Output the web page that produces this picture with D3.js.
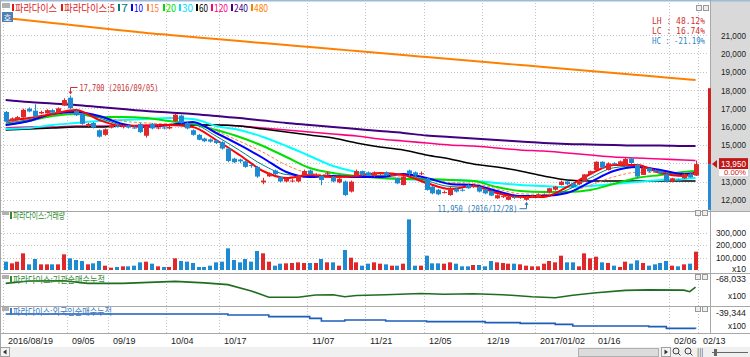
<!DOCTYPE html>
<html><head><meta charset="utf-8">
<script src="https://cdn.jsdelivr.net/npm/d3@7"></script>
<style>
body{margin:0;background:#fff;overflow:hidden}
svg{display:block}
text{font-family:"Noto Sans CJK KR","Noto Sans",sans-serif}
.mono{font-family:"DejaVu Sans Mono","Liberation Mono",monospace}
.num{font-family:"Liberation Sans",Arial,sans-serif}
</style></head><body>
<svg id="c" width="750" height="357"></svg>
<script>
// ---------- DATA ----------
const dateLabels = ["2016/08/19","09/05","09/19","10/04","10/17","11/07","11/21","12/05","12/19","2017/01/02","01/16","02/06","02/13"];
const dateLabelIdx = [0,11,18,28,37,52,62,72,82,91,101,114,119];

const open = [16800,16300,16380,16500,16980,16870,16720,16720,16900,16740,17150,17580,16850,16700,16050,16200,15800,15550,15950,16050,
15980,16050,15950,16150,15500,16150,15900,15950,15900,16300,16600,16200,15800,15550,15350,15300,15250,15150,14800,14250,
14200,14100,13900,13800,12950,13280,13600,13250,13000,13050,13000,13320,13600,13350,13300,13400,13250,12950,13000,12450,
13320,13570,13500,13300,13400,13500,13350,13170,12810,13600,13500,13400,13170,12720,12550,12400,12260,12600,12550,12800,
12700,12700,12580,12480,12080,12150,12000,12150,12100,12000,12150,12150,12280,12410,12550,12810,13000,12900,12850,13030,
13400,13630,14080,13630,14000,13900,13860,14250,13900,13360,13720,13600,13550,13390,13000,13100,13170,13400,13320];
const close = [16270,16450,16520,16920,16830,16550,16800,16900,16760,17000,17450,17000,16620,16150,16150,15950,15450,15850,16050,15980,
16050,15950,15920,15700,16000,15900,15950,15900,15980,16650,16200,15900,15550,15280,15200,15180,15100,14800,14120,14050,
14100,13800,13850,13270,13050,13450,13400,13000,13150,13050,13320,13570,13380,13350,13080,13450,13000,13150,12260,12990,
13570,13350,13330,13500,13450,13330,13350,12900,13270,13420,13330,13450,12540,12350,12300,12420,12660,12450,12500,12630,
12750,12450,12350,12230,12250,12200,12170,12120,12180,12170,12230,12300,12300,12630,12720,12990,12850,12700,12990,13390,
13570,14080,13760,13990,13950,14100,14230,14010,13270,13760,13550,13550,13450,12990,13170,13050,13400,13220,13950];
const high = [16850,16500,16580,16980,17050,17220,16870,16950,16950,17050,17550,17700,16900,16750,16200,16250,15850,15900,16100,16150,
16100,16100,16050,16200,16050,16200,16050,16000,16050,16700,16650,16250,15850,15600,15400,15350,15300,15200,14850,14300,
14250,14150,13950,13850,13200,13500,13650,13300,13200,13150,13350,13650,13650,13450,13350,13550,13300,13200,13050,13050,
13650,13600,13550,13550,13500,13550,13400,13200,13300,13650,13550,13550,13200,12750,12600,12500,12700,12650,12650,12850,
12850,12750,12600,12500,12300,12250,12200,12200,12200,12200,12250,12350,12350,12650,12750,13050,13050,12950,13000,13400,
13600,14100,14100,14050,14050,14150,14280,14300,13950,13800,13750,13650,13600,13400,13200,13150,13450,13450,14150];
const low = [16200,16250,16330,16480,16780,16500,16680,16700,16700,16720,17120,16950,16580,16100,15980,15900,15400,15500,15900,15950,
15900,15900,15880,15650,15400,15850,15850,15850,15850,16250,16150,15850,15500,15250,15150,15120,15050,14750,14050,14000,
14000,13750,13750,13200,12850,13250,13350,12950,12950,12950,12950,13300,13350,13300,12800,13350,12950,12900,12200,12400,
13300,13300,13300,13250,13350,13300,13300,12850,12780,13280,13300,13350,12500,12300,12250,12350,12220,12400,12450,12600,
12650,12400,12300,12200,12050,12100,11980,12050,12050,11950,12100,12100,12250,12350,12500,12780,12800,12650,12800,13000,
13380,13600,13700,13600,13900,13850,13850,13950,13200,13350,13500,13500,13400,12950,12950,13000,13150,13200,13300];
const volume = [66700,53300,66700,133300,45300,88000,45300,45300,45300,45300,125300,93300,80000,72000,45300,53300,72000,34700,18700,24000,
29300,29300,34700,61300,66700,50700,29300,24000,24000,93300,72000,66700,56000,24000,24000,34700,61300,66700,173300,80000,
61300,88000,66700,152000,133300,66700,34700,50700,53300,56000,61300,56000,56000,56000,88000,61300,61300,34700,160000,98700,
61300,34700,50700,61300,50700,45300,34700,34700,50700,405000,34700,34700,114700,53300,53300,50700,61300,50700,29300,29300,
40000,40000,29300,72000,61300,56000,50700,50700,45300,34700,29300,29300,50700,72000,61300,114700,61300,61300,29300,133300,
93300,106700,61300,56000,34700,24000,66700,50700,77300,56000,34700,45300,56000,72000,34700,29300,45300,50700,146700];

const maIdx = [0,4,8,12,16,20,24,28,32,36,40,44,48,52,56,60,64,68,72,76,80,84,88,92,96,100,104,108,112,116,118];
const ma5  = [16306,16470,16689,16907,16361,16033,16033,16088,15978,15268,14448,13574,13192,13356,13246,13301,13465,13356,12918,12591,12755,12372,12154,12154,12700,13410,13902,13902,13465,13301,13465];
const ma7  = [16200,16380,16700,16850,16480,16080,16000,16090,16100,15480,14700,13900,13380,13300,13280,13270,13330,13380,13050,12730,12780,12420,12180,12180,12530,13200,13750,13850,13550,13350,13450];
const ma10 = [16088,16306,16689,16798,16579,16142,15978,16088,16252,15650,14995,14284,13520,13246,13301,13246,13246,13410,13192,12864,12809,12481,12208,12208,12372,12973,13574,13793,13629,13410,13465];
const ma15 = [16150,16300,16640,16750,16560,16300,16200,16150,16200,15750,15200,14600,13900,13450,13350,13270,13220,13250,13150,12950,12900,12600,12330,12300,12400,12800,13250,13500,13500,13450,13500];
const ma20 = [16088,16306,16579,16689,16525,16525,16470,16306,16142,15814,15432,14940,14339,13738,13465,13301,13192,13137,13137,13082,13028,12700,12481,12427,12427,12536,12864,13192,13356,13520,13574];
const ma30 = [15869,15923,16088,16197,16306,16361,16415,16470,16415,16033,15814,15432,14940,14394,13847,13520,13246,13137,13082,13082,13028,12918,12809,12754,12700,12754,12864,12973,13082,13137,13192];
const ma60 = [15814,15869,15923,15978,15978,16033,16033,16088,16088,16088,16033,15869,15705,15541,15377,15104,14885,14722,14448,14230,13957,13793,13574,13301,13082,13028,13028,13028,13028,13028,13028];
const ma120 = [15923,15978,15978,16033,16033,16033,16088,16088,16088,16088,16033,15923,15814,15705,15596,15487,15323,15213,15104,14995,14940,14831,14722,14667,14558,14448,14339,14284,14230,14175,14150];
const ma240 = [17454,17344,17262,17180,17071,16962,16852,16771,16689,16579,16470,16334,16197,16088,15978,15869,15760,15650,15514,15432,15350,15268,15186,15104,15049,15022,14995,14967,14967,14940,14940];
const ma480 = [21934,21797,21661,21524,21388,21251,21114,21005,20896,20787,20677,20568,20459,20350,20240,20131,20022,19912,19803,19694,19585,19475,19366,19257,19147,19038,18929,18820,18710,18601,18546];

const instIdx = [0,4,10,14,20,29,34,38,42,45,50,53,56,58,60,65,71,75,80,85,90,94,97,101,106,110,116,117,118];
const inst = [-74033,-71333,-71033,-74033,-74033,-71633,-73433,-75533,-83033,-90533,-90533,-87833,-87533,-89933,-88433,-87533,-86033,-86933,-86333,-87533,-89933,-91133,-88133,-85133,-82433,-81833,-82133,-83933,-78533];
const forIdx = [0,27,38,45,52,54,58,65,72,82,88,94,97,102,110,113,118];
const foreign = [-38444,-38444,-39344,-40844,-42344,-44744,-43844,-44744,-45344,-46244,-46844,-47744,-49244,-49244,-49844,-51344,-51644];

const priceTicks = [12000,13000,14000,15000,16000,17000,18000,19000,20000,21000];
const volTicks = [100000,200000,300000];
const maNames = ["5","7","10","15","20","30","60","120","240","480"];
const maColors = ["#ff0000","#008080","#0000ff","#ff8040","#00e000","#00ffff","#000000","#ff0080","#400080","#ff8000"];
const maWidths = [2,1,2,1,2,2,1.6,1.6,2,2];
const lastPrice = 13950;
const rangeBar = [18100, 11450];
const hiPt = {i:11, v:17700, label:"17,700 (2016/09/05)"};
const loPt = {i:89, v:11950, label:"11,950 (2016/12/28)"};
const statLabels = ["LH :  48.12%","LC :  16.74%","HC : -21.19%"];

// ---------- LAYOUT ----------
const svg = d3.select("#c");
const UP="#e0282a", DN="#1c8bd2";
const plotR = 708, axisL = 711;
const x = d3.scaleLinear().domain([0,119]).range([5.7,701.4]);
const y = d3.scaleLinear().domain([12000,21000]).range([199.8,35.1]);
const yv = d3.scaleLinear().domain([0,300000]).range([270,232.5]);
const yi = d3.scaleLinear().domain([-68033,-95033]).range([278.3,301]);
const yf = d3.scaleLinear().domain([-39344,-66344]).range([315,345]);
const panels = [[2,211],[212,273],[274,306],[307,333]];
const num = d3.format(",");
function narrow(sel, w){ return sel.attr("textLength",w).attr("lengthAdjust","spacingAndGlyphs"); }

svg.append("rect").attr("width",750).attr("height",357).attr("fill","#fff");
svg.append("rect").attr("x",axisL).attr("y",0).attr("width",750-axisL).attr("height",211).attr("fill","#d9d9d9");
svg.append("rect").attr("x",0).attr("y",0).attr("width",750).attr("height",1.5).attr("fill","#9dbbd8");

panels.forEach(p=>{
  svg.append("line").attr("x1",0).attr("x2",750).attr("y1",p[1]+0.5).attr("y2",p[1]+0.5).attr("stroke","#a8a8a8");
});
svg.append("line").attr("x1",axisL-0.5).attr("x2",axisL-0.5).attr("y1",0).attr("y2",333).attr("stroke","#a8a8a8");
svg.append("line").attr("x1",0.5).attr("x2",0.5).attr("y1",0).attr("y2",347).attr("stroke","#a8a8a8");

const grid = svg.append("g").attr("stroke","#c4c4c4").attr("stroke-dasharray","1,2");
dateLabelIdx.forEach(i=>{
  panels.forEach(p=>{
    grid.append("line").attr("x1",Math.round(x(i))-2.5).attr("x2",Math.round(x(i))-2.5).attr("y1",p[0]+1).attr("y2",p[1]);
  });
});
priceTicks.forEach(t=>{
  grid.append("line").attr("x1",1).attr("x2",plotR).attr("y1",Math.round(y(t))+0.5).attr("y2",Math.round(y(t))+0.5);
});
volTicks.forEach(t=>{
  grid.append("line").attr("x1",1).attr("x2",plotR).attr("y1",Math.round(yv(t))+0.5).attr("y2",Math.round(yv(t))+0.5);
});

// ---------- MAIN PANEL ----------
svg.append("defs").append("clipPath").attr("id","mc").append("rect").attr("x",1).attr("y",2).attr("width",plotR-1).attr("height",209);
const main = svg.append("g").attr("clip-path","url(#mc)");
const maArrs = [ma5,ma7,ma10,ma15,ma20,ma30,ma60,ma120,ma240,ma480];
[9,8,7,6,5,4,3,1,2,0].forEach(k=>{
  const pts = maIdx.map((i,j)=>[i,maArrs[k][j]]);
  main.append("path").datum(pts)
    .attr("d",d3.line().x(d=>x(d[0])).y(d=>y(d[1])).curve(d3.curveMonotoneX))
    .attr("fill","none").attr("stroke",maColors[k]).attr("stroke-width",maWidths[k])
    .attr("stroke-dasharray",k===3?"3,2":null);
});

const cg = main.append("g");
open.forEach((o,i)=>{
  const c = close[i], col = c>=o?UP:DN;
  const cx = Math.round(x(i))+0.5;
  cg.append("line").attr("x1",cx).attr("x2",cx).attr("y1",y(high[i])).attr("y2",y(low[i])).attr("stroke",col);
  const t = y(Math.max(o,c)), b = y(Math.min(o,c));
  cg.append("rect").attr("x",cx-2.5).attr("y",t).attr("width",5).attr("height",Math.max(1,b-t)).attr("fill",col);
});

{
  const hx = Math.round(x(hiPt.i))+0.5, hy = y(hiPt.v);
  svg.append("path").attr("d",`M${hx},${hy-2}V${hy-8}H${hx+7}`).attr("fill","none").attr("stroke","#c83232");
  svg.append("path").attr("d",`M${hx-2},${hy-4}L${hx},${hy-1}L${hx+2},${hy-4}Z`).attr("fill","#c83232");
  narrow(svg.append("text").attr("x",hx+9).attr("y",hy-4.5).attr("font-size",9.5).attr("fill","#c83232").attr("class","mono").text(hiPt.label),79);
  const lx = Math.round(x(loPt.i))+0.5, ly = y(loPt.v);
  svg.append("path").attr("d",`M${lx},${ly+2}V${ly+8}H${lx-7}`).attr("fill","none").attr("stroke","#2a7ab8");
  svg.append("path").attr("d",`M${lx-2},${ly+4}L${lx},${ly+1}L${lx+2},${ly+4}Z`).attr("fill","#2a7ab8");
  narrow(svg.append("text").attr("x",lx-89).attr("y",ly+11.5).attr("font-size",9.5).attr("fill","#2a7ab8").attr("class","mono").text(loPt.label),80);
}

statLabels.forEach((s,j)=>{
  narrow(svg.append("text").attr("x",652).attr("y",24+j*10).attr("font-size",9)
   .attr("class","mono").attr("fill",j<2?"#d03030":"#2a88c8").text(s),53);
});

priceTicks.forEach(t=>{
  if (t===14000) return;
  narrow(svg.append("text").attr("class","num").attr("x",721).attr("y",y(t)+3.5).attr("font-size",9).attr("fill","#222").text(num(t)),25);
});
svg.append("rect").attr("x",708).attr("y",y(rangeBar[0])).attr("width",3).attr("height",y(lastPrice)-y(rangeBar[0])).attr("fill","#d02020");
svg.append("rect").attr("x",708).attr("y",y(lastPrice)).attr("width",3).attr("height",y(rangeBar[1])-y(lastPrice)).attr("fill","#2a8ad0");
svg.append("path").attr("d",`M${712},${y(lastPrice)}L${717},${y(lastPrice)-4}V${y(lastPrice)+4}Z`).attr("fill","#c01818");
svg.append("rect").attr("x",719).attr("y",y(lastPrice)-6).attr("width",29).attr("height",11).attr("fill","#c01818");
narrow(svg.append("text").attr("class","num").attr("x",721).attr("y",y(lastPrice)+3).attr("font-size",9).attr("fill","#fff").text(num(lastPrice)),25);
svg.append("rect").attr("x",719).attr("y",y(lastPrice)+5).attr("width",29).attr("height",7).attr("fill","#fff");
narrow(svg.append("text").attr("class","num").attr("x",724).attr("y",y(lastPrice)+10.8).attr("font-size",7.5).attr("fill","#d02020").text("0.00%"),22);

const lg = svg.append("g");
lg.append("rect").attr("x",2).attr("y",3).attr("width",8).attr("height",5).attr("fill","#b0b0b0");
const legItems = [["파라다이스","#e01818",15,42],["파라다이스:5","#e01818",64,51]].concat(
  maNames.slice(1).map((n,k)=>[n,maColors[k+1]==="#00ffff"?"#00e0ff":maColors[k+1],[121,134,150,166,182,199,214,234,254][k],[7,9,9,10,11,9,14,14,14][k]]));
legItems.forEach(([t,c,lx,w])=>{
  lg.append("rect").attr("x",lx-3).attr("y",4).attr("width",2).attr("height",7).attr("fill",c);
  narrow(lg.append("text").attr("x",lx).attr("y",11.5).attr("font-size",10).attr("fill",c).text(t),w);
});
svg.append("rect").attr("x",2).attr("y",12).attr("width",11).attr("height",10).attr("fill","#4f7fb5");
svg.append("text").attr("x",7.5).attr("y",20.5).attr("text-anchor","middle").attr("font-size",8.5).attr("fill","#fff").text("호");
[[696,5],[703,5]].forEach(([bx,by])=>svg.append("rect").attr("x",bx+0.5).attr("y",by+0.5).attr("width",5).attr("height",5).attr("fill","#eee").attr("stroke","#999"));

// ---------- VOLUME ----------
const vg = svg.append("g");
volume.forEach((v,i)=>{
  const cx = Math.round(x(i));
  vg.append("rect").attr("x",cx-2).attr("y",yv(v)).attr("width",4).attr("height",yv(0)-yv(v)).attr("fill",close[i]>=open[i]?UP:DN);
});
volTicks.forEach(t=>{
  narrow(svg.append("text").attr("class","num").attr("x",716).attr("y",yv(t)+3).attr("font-size",8.5).attr("fill","#222").text(num(t)),30);
});
narrow(svg.append("text").attr("class","num").attr("x",732).attr("y",yv(0)+2).attr("font-size",8.5).attr("fill","#222").text("x10"),14);

// ---------- INSTITUTION / FOREIGN ----------
svg.append("path").datum(instIdx.map((i,j)=>[i,inst[j]]))
  .attr("d",d3.line().x(d=>x(d[0])).y(d=>yi(d[1])))
  .attr("fill","none").attr("stroke","#1f6e1f").attr("stroke-width",1.6);
svg.append("path").datum(forIdx.map((i,j)=>[i,foreign[j]]))
  .attr("d",d3.line().x(d=>x(d[0])).y(d=>yf(d[1])).curve(d3.curveStepAfter))
  .attr("fill","none").attr("stroke","#1d5fb8").attr("stroke-width",1.6);
narrow(svg.append("text").attr("class","num").attr("x",716).attr("y",yi(-68033)+3.5).attr("font-size",9).attr("fill","#222").text("-68,033"),30);
narrow(svg.append("text").attr("class","num").attr("x",728).attr("y",299).attr("font-size",9).attr("fill","#222").text("x100"),18);
narrow(svg.append("text").attr("class","num").attr("x",716).attr("y",yf(-39344)+0.5).attr("font-size",9).attr("fill","#222").text("-39,344"),30);
narrow(svg.append("text").attr("class","num").attr("x",728).attr("y",329).attr("font-size",9).attr("fill","#222").text("x100"),18);

[["파라다이스:거래량","#2f8a2f",219,52],["파라다이스:기관순매수누적","#2f8a2f",283,92],["파라다이스:외국인순매수누적","#3a7abf",315,99]].forEach(([t,c,ty,w])=>{
  svg.append("rect").attr("x",2).attr("y",ty-8).attr("width",7).attr("height",4).attr("fill","#b0b0b0");
  svg.append("rect").attr("x",10).attr("y",ty-7).attr("width",2).attr("height",7).attr("fill",c);
  narrow(svg.append("text").attr("x",13).attr("y",ty).attr("font-size",9.5).attr("fill",c).text(t),w);
  [[695,ty-9],[702,ty-9]].forEach(([bx,by])=>svg.append("rect").attr("x",bx+0.5).attr("y",by+0.5).attr("width",5).attr("height",5).attr("fill","#eee").attr("stroke","#999"));
});

// ---------- DATE AXIS ----------
dateLabels.forEach((t,k)=>{
  narrow(svg.append("text").attr("class","num").attr("x",Math.round(x(dateLabelIdx[k]))+2).attr("y",344).attr("font-size",9.5).attr("fill","#222").text(t),t.length*4.5);
});

// ---------- SCROLLBAR ----------
svg.append("rect").attr("x",0).attr("y",347).attr("width",750).attr("height",10).attr("fill","#f0f0f0");
svg.append("rect").attr("x",0.5).attr("y",347.5).attr("width",9).attr("height",9).attr("fill","#f4f4f4").attr("stroke","#a0a0a0");
svg.append("path").attr("d","M3,352L6.5,349.5V354.5Z").attr("fill","#333");
svg.append("rect").attr("x",578.5).attr("y",348.5).attr("width",80).attr("height",8).attr("fill","#dcdcdc").attr("stroke","#b0b0b0");
svg.append("rect").attr("x",661.5).attr("y",347.5).attr("width",9).attr("height",9).attr("fill","#f4f4f4").attr("stroke","#a0a0a0");
svg.append("path").attr("d","M668,352L664.5,349.5V354.5Z").attr("fill","#333");
[676,688].forEach(cx=>{
  svg.append("circle").attr("cx",cx).attr("cy",351).attr("r",3).attr("fill","none").attr("stroke","#444");
  svg.append("line").attr("x1",cx+2).attr("y1",353).attr("x2",cx+4.5).attr("y2",355.5).attr("stroke","#444");
});
svg.append("text").attr("x",697).attr("y",355).attr("font-size",8).attr("fill","#444").text("|||");
svg.append("line").attr("x1",712).attr("x2",748).attr("y1",352.5).attr("y2",352.5).attr("stroke","#666");
svg.append("rect").attr("x",714).attr("y",349).attr("width",3).attr("height",7).attr("fill","#666");
</script></body></html>
